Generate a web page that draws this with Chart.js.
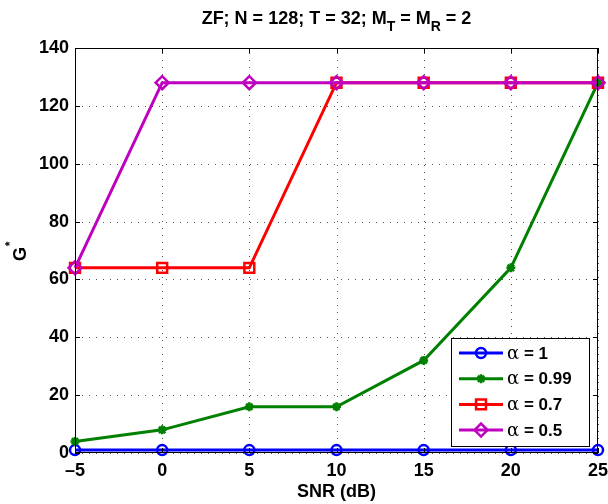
<!DOCTYPE html>
<html>
<head>
<meta charset="utf-8">
<script src="https://cdn.jsdelivr.net/npm/chart.js@4/dist/chart.umd.min.js"></script>
<style>
  html, body { margin: 0; padding: 0; background: #fff; }
  #wrap { width: 608px; height: 504px; }
</style>
</head>
<body>
<div id="wrap"><canvas id="c" width="608" height="504"></canvas></div>
<script>
// data
const snr = [-5, 0, 5, 10, 15, 20, 25];
const alpha1 = [1, 1, 1, 1, 1, 1, 1];
const alpha099 = [4, 8, 16, 16, 32, 64, 128];
const alpha07 = [64, 64, 64, 128, 128, 128, 128];
const alpha05 = [64, 128, 128, 128, 128, 128, 128];
const seriesLabels = ['α = 1', 'α = 0.99', 'α = 0.7', 'α = 0.5'];
const xTicks = [-5, 0, 5, 10, 15, 20, 25];
const yTicks = [0, 20, 40, 60, 80, 100, 120, 140];

const FONT = '"Liberation Sans", Arial, Helvetica, sans-serif';

function pts(ys) {
    return snr.map((x, i) => ({ x: x, y: ys[i] }));
}

function mkSet(label, ys, color, style, radius, order) {
    return {
        label: label,
        data: pts(ys),
        borderColor: color,
        backgroundColor: 'rgba(0,0,0,0)',
        borderWidth: 3,
        pointStyle: style,
        pointRadius: radius,
        pointBorderWidth: 2.5,
        pointBorderColor: color,
        pointBackgroundColor: 'rgba(0,0,0,0)',
        tension: 0,
        clip: false,
        order: order
    };
}

// title with subscripts and the G* axis label
const textPlugin = {
    id: 'mtext',
    afterDraw(chart) {
        const ctx = chart.ctx;
        const a = chart.chartArea;
        const parts = [
            { t: 'ZF; N = 128; T = 32; M', sub: false },
            { t: 'T', sub: true },
            { t: ' = M', sub: false },
            { t: 'R', sub: true },
            { t: ' = 2', sub: false }
        ];
        ctx.save();
        ctx.fillStyle = '#000';
        ctx.textBaseline = 'alphabetic';
        ctx.textAlign = 'left';
        let total = 0;
        parts.forEach(p => {
            ctx.font = 'bold ' + (p.sub ? 14 : 18) + 'px ' + FONT;
            total += ctx.measureText(p.t).width;
        });
        let x = (a.left + a.right) / 2 - total / 2;
        parts.forEach(p => {
            ctx.font = 'bold ' + (p.sub ? 14 : 18) + 'px ' + FONT;
            ctx.fillText(p.t, x, p.sub ? 31 : 24);
            x += ctx.measureText(p.t).width;
        });

        // y axis label G with superscript *
        ctx.translate(21, 254);
        ctx.rotate(-Math.PI / 2);
        ctx.textAlign = 'center';
        ctx.textBaseline = 'middle';
        ctx.font = 'bold 18px ' + FONT;
        ctx.fillText('G', 0, 0);
        ctx.font = 'bold 12px ' + FONT;
        ctx.fillText('*', 10, -10);
        ctx.restore();
    }
};

// dotted grid drawn under the lines
const gridPlugin = {
    id: 'mgrid',
    beforeDatasetsDraw(chart) {
        const ctx = chart.ctx;
        const a = chart.chartArea;
        const xs = chart.scales.x, ys = chart.scales.y;
        ctx.save();
        ctx.strokeStyle = '#555';
        ctx.lineWidth = 1;
        ctx.setLineDash([1, 6]);
        ctx.beginPath();
        xTicks.forEach(v => {
            const px = Math.round(xs.getPixelForValue(v)) + 0.5;
            ctx.moveTo(px, a.bottom); ctx.lineTo(px, a.top);
        });
        yTicks.forEach(v => {
            const py = Math.round(ys.getPixelForValue(v)) + 0.5;
            ctx.moveTo(a.left, py); ctx.lineTo(a.right, py);
        });
        ctx.stroke();
        ctx.restore();
    }
};

// box, inward ticks and the legend box
const framePlugin = {
    id: 'frame',
    afterDatasetsDraw(chart) {
        const ctx = chart.ctx;
        const a = chart.chartArea;
        const xs = chart.scales.x, ys = chart.scales.y;
        ctx.save();
        ctx.strokeStyle = '#000';
        ctx.lineWidth = 1;
        ctx.strokeRect(a.left + 0.5, a.top + 0.5, a.right - a.left - 1, a.bottom - a.top - 1);
        ctx.beginPath();
        xTicks.forEach(v => {
            const px = Math.round(xs.getPixelForValue(v)) + 0.5;
            ctx.moveTo(px, a.bottom); ctx.lineTo(px, a.bottom - 5);
            ctx.moveTo(px, a.top); ctx.lineTo(px, a.top + 5);
        });
        yTicks.forEach(v => {
            const py = Math.round(ys.getPixelForValue(v)) + 0.5;
            ctx.moveTo(a.left, py); ctx.lineTo(a.left + 5, py);
            ctx.moveTo(a.right, py); ctx.lineTo(a.right - 5, py);
        });
        ctx.stroke();

        // legend
        const bx = 451, by = 338, bw = 138, bh = 108;
        ctx.fillStyle = '#fff';
        ctx.fillRect(bx, by, bw, bh);
        ctx.strokeRect(bx + 0.5, by + 0.5, bw, bh);
        chart.data.datasets.forEach((ds, i) => {
            const yy = 353 + i * 25.7;
            ctx.strokeStyle = ds.borderColor;
            ctx.lineWidth = 3;
            ctx.beginPath();
            ctx.moveTo(459, yy); ctx.lineTo(503, yy);
            ctx.stroke();
            ctx.lineWidth = 2.5;
            ctx.fillStyle = 'rgba(0,0,0,0)';
            Chart.helpers.drawPoint(ctx, {
                pointStyle: ds.pointStyle, radius: ds.pointRadius, borderWidth: 2.5
            }, 481, yy);
            ctx.fillStyle = '#000';
            ctx.textBaseline = 'middle';
            ctx.font = '18px "DejaVu Serif", serif';
            ctx.fillText('α', 507, yy + 1);
            const aw = ctx.measureText('α').width;
            ctx.font = 'bold 17px ' + FONT;
            ctx.fillText(ds.label.replace('α', ''), 507 + aw, yy + 1);
        });
        ctx.restore();
    }
};

new Chart(document.getElementById('c'), {
    type: 'line',
    data: {
        datasets: [
            mkSet(seriesLabels[0], alpha1, '#0000ff', 'circle', 5, 3),
            mkSet(seriesLabels[1], alpha099, '#008000', 'star', 4.5, 2),
            mkSet(seriesLabels[2], alpha07, '#ff0000', 'rect', 7, 1),
            mkSet(seriesLabels[3], alpha05, '#bf00bf', 'rectRot', 6.5, 0)
        ]
    },
    options: {
        responsive: false,
        animation: false,
        devicePixelRatio: 1,
        layout: { padding: { top: 48, right: 10, left: 0, bottom: 0 } },
        plugins: {
            legend: { display: false },
            tooltip: { enabled: false },
            title: { display: false }
        },
        scales: {
            x: {
                type: 'linear',
                min: -5,
                max: 25,
                afterBuildTicks(s) { s.ticks = xTicks.map(v => ({ value: v })); },
                afterFit(s) {
                    s.height = 51;
                    s.paddingLeft = 0;
                    s.paddingRight = 0;
                },
                ticks: {
                    color: '#000',
                    font: { family: FONT, size: 18, weight: 'bold' },
                    padding: 7,
                    maxRotation: 0,
                    callback: v => (v < 0 ? '\u2013' + Math.abs(v) : String(v))
                },
                grid: { display: false, drawTicks: false },
                border: { display: false },
                title: {
                    display: true,
                    text: 'SNR (dB)',
                    color: '#000',
                    font: { family: FONT, size: 18, weight: 'bold' },
                    padding: { top: 0, bottom: 1 }
                }
            },
            y: {
                min: 0,
                max: 140,
                afterBuildTicks(s) { s.ticks = yTicks.map(v => ({ value: v })); },
                afterFit(s) {
                    s.width = 75;
                    s.paddingTop = 0;
                    s.paddingBottom = 0;
                },
                ticks: {
                    color: '#000',
                    font: { family: FONT, size: 18, weight: 'bold' },
                    padding: 6
                },
                grid: { display: false, drawTicks: false },
                border: { display: false }
            }
        }
    },
    plugins: [gridPlugin, framePlugin, textPlugin]
});
</script>
</body>
</html>
